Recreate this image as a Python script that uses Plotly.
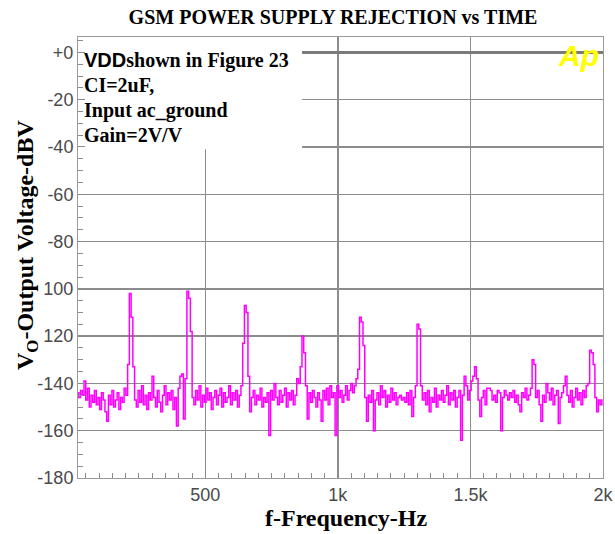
import plotly.graph_objects as go

# FFT bin grid (Hz): the 217 Hz GSM burst falls on every 33rd bin
bin_hz = 217.0 / 33
first_bin = 3

# Output level (dBV) per bin
level_dbv = [
    -144, -146, -143, -145, -139, -147, -142, -150, -145, -148,   # 3-12
    -143, -149, -146, -151, -144, -147, -152, -156, -145, -149,   # 13-22
    -143, -150, -147, -144, -151, -146, -148, -142, -145, -132,   # 23-32
    -102, -112, -133, -147, -150, -143, -148, -141, -149, -145,   # 33-42
    -151, -144, -147, -137, -146, -150, -143, -148, -152, -145,   # 43-52
    -141, -149, -144, -147, -143, -151, -146, -158, -142, -137,   # 53-62
    -136, -155, -138, -101, -104, -118, -146, -149, -143, -147,   # 63-72
    -141, -150, -145, -148, -142, -147, -144, -151, -146, -143,   # 73-82
    -149, -145, -142, -150, -144, -148, -146, -141, -149, -144,   # 83-92
    -147, -143, -150, -145, -141, -123, -107, -110, -137, -152,   # 93-102
    -146, -143, -149, -145, -147, -142, -150, -146, -148, -144,   # 103-112
    -162, -143, -147, -140, -146, -149, -143, -148, -145, -142,   # 113-122
    -150, -144, -147, -143, -149, -145, -138, -140, -133, -120,   # 123-132
    -127, -141, -155, -144, -148, -143, -146, -150, -144, -147,   # 133-142
    -156, -143, -147, -142, -149, -141, -146, -144, -162, -141,   # 143-152
    -146, -143, -148, -145, -141, -147, -143, -140, -144, -141,   # 153-162
    -138, -134, -112, -114, -124, -146, -156, -145, -148, -143,   # 163-172
    -160, -147, -144, -149, -141, -146, -143, -150, -145, -148,   # 173-182
    -142, -147, -144, -149, -146, -145, -147, -146, -148, -144,   # 183-192
    -149, -143, -154, -146, -141, -115, -117, -141, -147, -144,   # 193-202
    -149, -143, -152, -146, -148, -142, -150, -145, -147, -143,   # 203-212
    -148, -145, -141, -149, -144, -147, -143, -150, -146, -143,   # 213-222
    -164, -145, -137, -141, -147, -143, -139, -137, -133, -138,   # 223-232
    -147, -154, -146, -143, -149, -142, -142, -143, -147, -145,   # 233-242
    -148, -143, -144, -160, -146, -143, -145, -147, -144, -146,   # 243-252
    -143, -148, -145, -149, -152, -144, -146, -142, -147, -145,   # 253-262
    -142, -130, -132, -146, -143, -149, -156, -145, -148, -140,   # 263-272
    -144, -147, -142, -149, -145, -143, -157, -146, -144, -141,   # 273-282
    -137, -145, -148, -143, -150, -146, -142, -147, -144, -149,   # 283-292
    -143, -146, -141, -140, -126, -127, -132, -146, -152, -147,   # 293-302
    -149, -147,                                                   # 303-304
]
freq_hz = [(first_bin + i) * bin_hz for i in range(len(level_dbv))]

x_ticks = [500, 1000, 1500, 2000]
x_labels = ["500", "1k", "1.5k", "2k"]
y_ticks = [-180, -160, -140, -120, -100, -80, -60, -40, -20, 0]
y_labels = ["-180", "-160", "-140", "120", "100", "-80", "-60", "-40", "-20", "+0"]

title_text = "GSM POWER SUPPLY REJECTION vs TIME"
note_lines = [
    "<span style='font-family:Liberation Sans, Arial'>VDD</span>shown in Figure 23",
    "CI=2uF,",
    "Input ac_ground",
    "Gain=2V/V",
]

SERIF = "Liberation Serif, Times New Roman, serif"
SANS = "Liberation Sans, Arial, sans-serif"

fig = go.Figure()
fig.add_trace(go.Scatter(
    x=freq_hz, y=level_dbv, mode="lines",
    line=dict(color="#FF00FF", width=1.5, shape="hvh"),
    hoverinfo="skip", showlegend=False,
))

axis_common = dict(
    showgrid=True, gridcolor="#8c8c8c", gridwidth=1.5,
    showline=True, linecolor="#9a9a9a", linewidth=1, mirror=True,
    ticks="inside", ticklen=7, tickcolor="#8a8a8a", tickwidth=1,
    tickfont=dict(family=SANS, size=18, color="#4a4a4a"),
    automargin=False,
)

fig.update_xaxes(
    range=[20, 2000], tickmode="array", tickvals=x_ticks, ticktext=x_labels,
    zeroline=False,
    minor=dict(tickmode="linear", tick0=0, dtick=50, ticks="inside",
               ticklen=5, tickcolor="#8a8a8a", showgrid=False),
    **axis_common,
)
fig.update_yaxes(
    range=[-180, 6.5], tickmode="array", tickvals=y_ticks, ticktext=y_labels,
    zeroline=True, zerolinecolor="#7a7a7a", zerolinewidth=3,
    minor=dict(tickmode="linear", tick0=0, dtick=5, ticks="inside",
               ticklen=5, tickcolor="#8a8a8a", showgrid=False),
    **axis_common,
)

# white panel behind the note text (hides grid there)
fig.add_shape(type="rect", xref="x", yref="y", x0=20, x1=865, y0=-41, y1=6.5,
              fillcolor="white", line=dict(width=0), layer="between")

annotations = []
for i, line in enumerate(note_lines):
    py = 60 + 25 * i
    annotations.append(dict(
        text="<b>" + line + "</b>", xref="paper", yref="paper",
        x=(82 - 78) / 525, y=(478 - py) / 441, xanchor="left", yanchor="middle",
        showarrow=False, font=dict(family=SERIF, size=20, color="black"),
    ))
annotations.append(dict(
    text="<b><i>Ap</i></b>", xref="paper", yref="paper",
    x=(578 - 78) / 525, y=(478 - 55) / 441, xanchor="center", yanchor="middle",
    showarrow=False, font=dict(family=SANS, size=30, color="#FFFF00"),
))
annotations.append(dict(
    text="<b>f-Frequency-Hz</b>", xref="paper", yref="paper",
    x=(346 - 78) / 525, y=(478 - 518) / 441, xanchor="center", yanchor="middle",
    showarrow=False, font=dict(family=SERIF, size=24, color="black"),
))
annotations.append(dict(
    text="<b>V<sub>O</sub>-Output Voltage-dBV</b>", xref="paper", yref="paper",
    x=(27 - 78) / 525, y=(478 - 245) / 441, xanchor="center", yanchor="middle",
    textangle=-90, showarrow=False, font=dict(family=SERIF, size=24, color="black"),
))

fig.update_layout(
    width=615, height=534,
    margin=dict(l=78, r=12, t=37, b=56, autoexpand=False),
    paper_bgcolor="white", plot_bgcolor="white",
    title=dict(text="<b>" + title_text + "</b>", x=333 / 615, y=1 - 17 / 534,
               xanchor="center", yanchor="middle",
               font=dict(family=SERIF, size=20, color="black")),
    annotations=annotations,
)

fig.write_html("out.html",
               config={"displayModeBar": False, "staticPlot": True},
               post_script="document.body.style.margin='0px';document.body.style.overflow='hidden';")
